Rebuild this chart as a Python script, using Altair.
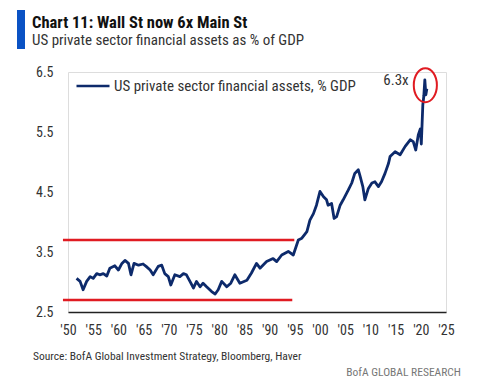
import altair as alt
import pandas as pd

# ---- data ----
years = [1951.7, 1952.4, 1953.0, 1953.7, 1954.4, 1955.0, 1955.7, 1956.3, 1957.0, 1957.7,
         1958.3, 1959.3, 1960.0, 1960.7, 1961.3, 1962.0, 1962.5, 1963.1, 1964.0, 1964.9,
         1965.5, 1966.3, 1966.9, 1967.9, 1968.6, 1969.2, 1969.9, 1970.4, 1971.2, 1972.2,
         1972.9, 1973.5, 1974.2, 1974.9, 1975.5, 1976.2, 1976.8, 1977.5, 1978.5, 1979.2,
         1979.8, 1980.5, 1981.5, 1982.3, 1983.1, 1984.1, 1985.5, 1986.4, 1987.4, 1988.1,
         1989.4, 1990.7, 1991.4, 1992.4, 1993.7, 1994.7, 1995.7, 1996.4, 1997.4, 1998.0,
         1998.7, 1999.3, 2000.0, 2000.7, 2001.3, 2001.6, 2002.3, 2002.8, 2003.3, 2004.0,
         2004.6, 2005.6, 2006.3, 2006.9, 2007.6, 2007.9, 2008.5, 2008.9, 2009.6, 2010.3,
         2010.9, 2011.6, 2012.2, 2012.9, 2013.6, 2013.9, 2014.9, 2015.9, 2016.9, 2017.9,
         2018.5, 2019.0, 2019.5, 2019.9, 2020.1, 2020.4, 2020.6, 2020.8, 2021.0, 2021.2]
values = [3.06, 3.01, 2.87, 3.01, 3.09, 3.06, 3.14, 3.12, 3.14, 3.10,
          3.23, 3.27, 3.20, 3.31, 3.36, 3.31, 3.12, 3.31, 3.28, 3.30,
          3.26, 3.20, 3.12, 3.26, 3.28, 3.14, 3.09, 2.95, 3.12, 3.09,
          3.14, 3.12, 3.01, 2.90, 3.01, 2.92, 2.98, 2.92, 2.84, 2.80,
          2.87, 3.01, 2.92, 2.98, 3.12, 2.98, 3.03, 3.15, 3.31, 3.23,
          3.34, 3.39, 3.34, 3.45, 3.51, 3.45, 3.70, 3.73, 3.84, 4.03,
          4.14, 4.28, 4.51, 4.42, 4.37, 4.28, 4.31, 4.06, 4.09, 4.28,
          4.37, 4.53, 4.65, 4.81, 4.87, 4.78, 4.59, 4.37, 4.56, 4.65,
          4.67, 4.59, 4.67, 4.81, 4.98, 5.09, 5.17, 5.12, 5.26, 5.37,
          5.34, 5.20, 5.45, 5.55, 5.30, 5.95, 6.10, 6.37, 6.12, 6.22]
series_name = "US private sector financial assets, % GDP"

band_levels = [3.7, 2.7]
band_start = [1949.0, 1949.0]
band_end = [1994.9, 1994.5]

peak_year = [2020.9]
peak_value = [6.28]
peak_label = ["6.3x"]
label_year = [2017.6]
label_value = [6.36]

x_ticks = [1950, 1955, 1960, 1965, 1970, 1975, 1980, 1985, 1990, 1995, 2000, 2005,
           2010, 2015, 2020, 2025]
x_tick_labels = ["'50", "'55", "'60", "'65", "'70", "'75", "'80", "'85", "'90", "'95",
                 "'00", "'05", "'10", "'15", "'20", "'25"]
y_ticks = [2.5, 3.5, 4.5, 5.5, 6.5]

title_text = ["Chart 11: Wall St now 6x Main St"]
subtitle_text = ["US private sector financial assets as % of GDP"]
source_text = ["Source:  BofA Global Investment Strategy, Bloomberg, Haver"]
brand_text = ["BofA GLOBAL RESEARCH"]

# ---- styling ----
FONT = "Liberation Sans Narrow, Roboto Condensed, Lato, sans-serif"
NAVY = "#0d2a6b"
RED = "#e01b22"
TXT = "#333333"

label_expr = " : ".join(
    f"datum.value == {y} ? \"{l}\"" for y, l in zip(x_ticks, x_tick_labels)
) + " : ''"

df = pd.DataFrame({"year": years, "value": values, "series": series_name})
bands = pd.DataFrame({"start": band_start, "end": band_end, "level": band_levels})
peak = pd.DataFrame({"year": peak_year, "value": peak_value})
plabel = pd.DataFrame({"year": label_year, "value": label_value, "t": peak_label})

xscale = alt.Scale(domain=[1950, 2025], nice=False, zero=False)
yscale = alt.Scale(domain=[2.5, 6.5], nice=False, zero=False)

xaxis = alt.Axis(values=x_ticks, labelExpr=label_expr, title=None, grid=False,
                 ticks=False, domainColor="#222222", domainWidth=1.5,
                 labelFont=FONT, labelFontSize=14, labelColor=TXT, labelPadding=11,
                 labelFlush=False, labelOverlap=False)
yaxis = alt.Axis(values=y_ticks, format=".1f", title=None, grid=False, ticks=False,
                 domain=False, labelFont=FONT, labelFontSize=14, labelColor=TXT,
                 labelPadding=15)

line = alt.Chart(df).mark_line(strokeWidth=2.8, strokeJoin="round").encode(
    x=alt.X("year:Q", scale=xscale, axis=xaxis),
    y=alt.Y("value:Q", scale=yscale, axis=yaxis),
    color=alt.Color("series:N", scale=alt.Scale(range=[NAVY]),
                    legend=alt.Legend(orient="none", legendX=7, legendY=-4, title=None,
                                      padding=0, symbolType="stroke",
                                      symbolStrokeWidth=2.6, symbolSize=1089,
                                      labelOffset=3, labelFont=FONT, labelFontSize=15,
                                      labelColor=TXT, labelLimit=400)),
)

rules = alt.Chart(bands).mark_rule(color=RED, strokeWidth=2.6).encode(
    x=alt.X("start:Q", scale=xscale, axis=xaxis),
    x2="end:Q",
    y=alt.Y("level:Q", scale=yscale, axis=yaxis),
)

ellipse_path = "M -0.68 0 A 0.68 1 0 1 0 0.68 0 A 0.68 1 0 1 0 -0.68 0 Z"
circle = alt.Chart(peak).mark_point(shape=ellipse_path, size=1156, filled=False,
                                     color=RED, strokeWidth=2, opacity=1).encode(
    x=alt.X("year:Q", scale=xscale, axis=xaxis),
    y=alt.Y("value:Q", scale=yscale, axis=yaxis),
)

peak_txt = alt.Chart(plabel).mark_text(align="right", baseline="middle", font=FONT,
                                       fontSize=15, color=TXT).encode(
    x=alt.X("year:Q", scale=xscale, axis=xaxis),
    y=alt.Y("value:Q", scale=yscale, axis=yaxis),
    text="t:N",
)

bar = alt.Chart(pd.DataFrame({"k": [0]})).mark_rect(color="#0a52c4").encode(
    x=alt.value(-51), x2=alt.value(-43), y=alt.value(-62), y2=alt.value(-23))

def annot(txt, x, y, size, weight="normal", align="left", color=TXT):
    return alt.Chart(pd.DataFrame({"t": txt})).mark_text(
        align=align, baseline="alphabetic", font=FONT, fontSize=size,
        fontWeight=weight, color=color).encode(
        x=alt.value(x), y=alt.value(y), text="t:N")

title = annot(title_text, -36, -44, 16.5, "bold", color="#111111")
subtitle = annot(subtitle_text, -36, -27, 15)
source = annot(source_text, -35, 288, 11.5)
brand = annot(brand_text, 393, 304, 11.5, align="right", color="#777777")

chart = alt.layer(line, rules, circle, peak_txt, bar, title, subtitle, source, brand).properties(
    width=378, height=240,
    autosize=alt.AutoSizeParams(type="none"),
    padding={"left": 60, "top": 64, "right": 46, "bottom": 68},
).configure_view(stroke=None).configure(background="white")

chart.save("out.html", embed_options={"renderer": "svg", "actions": False})
